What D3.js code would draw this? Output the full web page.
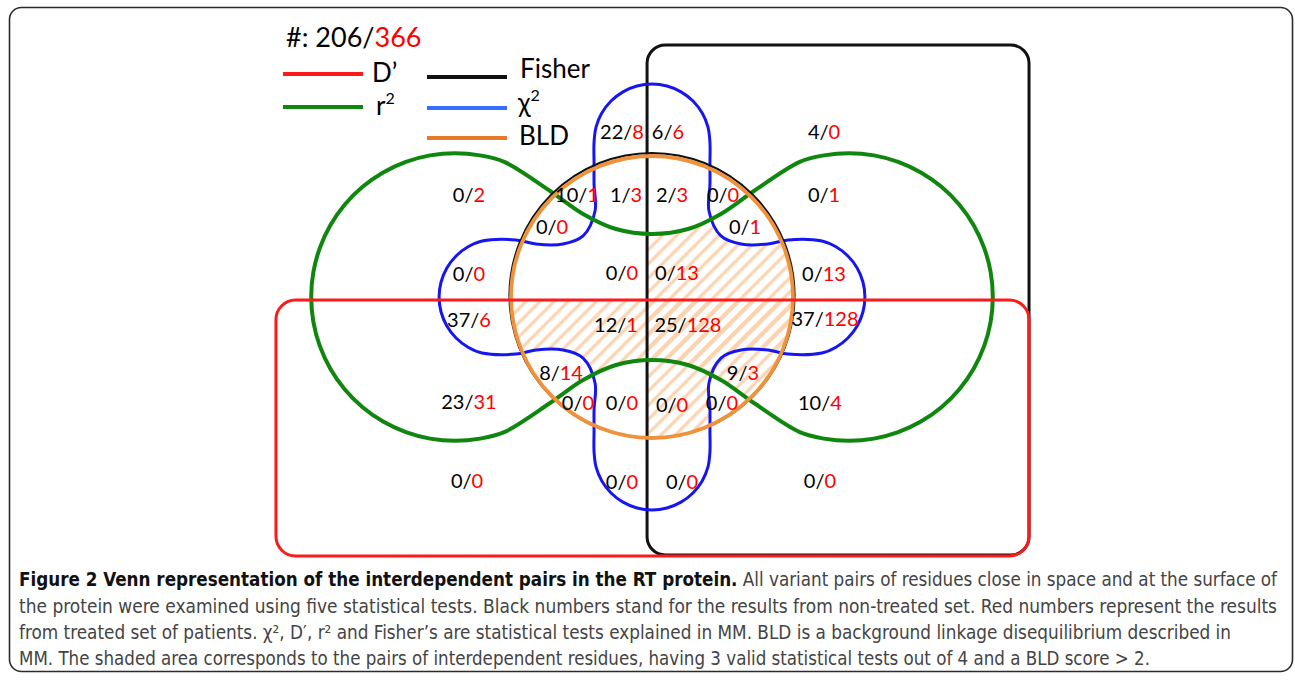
<!DOCTYPE html>
<html>
<head>
<meta charset="utf-8">
<script src="https://cdn.jsdelivr.net/npm/d3@7"></script>
<style>
  body { margin: 0; background: #fff; }
  svg text { font-family: Lato, "Open Sans", sans-serif; }
  .cap { font-family: "Liberation Sans Narrow", "DejaVu Sans Condensed", "Roboto", sans-serif; font-size: 19px; }
</style>
</head>
<body>
<svg id="chart" width="1295" height="680"></svg>
<script>
// one entry per Venn region, named by the tests it belongs to:
// B = BLD, C = chi2, D = D', F = Fisher, R = r2
var regions   = ["C", "CF", "F", "R", "B", "BC", "BCF", "BF", "FR", "BR", "BFR",
                 "CR", "BCR", "BCFR", "CFR", "CDR", "BCDR", "BCDFR", "CDFR",
                 "BDR", "BDFR", "DR", "BD", "BCD", "BCDF", "BDF", "DFR",
                 "D", "CD", "CDF", "DF"];
var untreated = [22, 6, 4, 0, 10, 1, 2, 0, 0, 0, 0,
                 0, 0, 0, 0, 37, 12, 25, 37,
                 8, 9, 23, 0, 0, 0, 0, 10,
                 0, 0, 0, 0];
var treated   = [8, 6, 0, 2, 1, 3, 3, 0, 1, 0, 1,
                 0, 0, 13, 13, 6, 1, 128, 128,
                 14, 3, 31, 0, 0, 0, 0, 4,
                 0, 0, 0, 0];

var legendNames = ["D’", "r", "Fisher", "χ", "BLD"];
var legendSup   = ["", "2", "", "2", ""];

var captionLines = [
  ["Figure 2 Venn representation of the interdependent pairs in the RT protein.", " All variant pairs of residues close in space and at the surface of"],
  ["", "the protein were examined using five statistical tests. Black numbers stand for the results from non-treated set. Red numbers represent the results"],
  ["", "from treated set of patients. χ², D′, r² and Fisher’s are statistical tests explained in MM. BLD is a background linkage disequilibrium described in"],
  ["", "MM. The shaded area corresponds to the pairs of interdependent residues, having 3 valid statistical tests out of 4 and a BLD score > 2."]
];

var col = { D: "#ff1a1a", R: "#0f870f", F: "#111", C: "#1616f0", B: "#f0913c" };
var legendCol = ["#ff1a1a", "#0f870f", "#111", "#3a6cff", "#e8792a"];

var svg = d3.select("#chart");

// diagram units: 1 = radius of the BLD circle
var R = 141, cx = 652, cy = 297;
var x = d3.scaleLinear().domain([-1, 1]).range([cx - R, cx + R]);
var y = d3.scaleLinear().domain([-1, 1]).range([cy - R, cy + R]);

var shapeLine = d3.line().x(function (d) { return x(d[0]); }).y(function (d) { return y(d[1]); })
  .curve(d3.curveCatmullRomClosed.alpha(0.5));

function roundRect(u0, v0, u1, v1, ru) {
  var p = d3.path(), a = x(u0), b = y(v0), c = x(u1), d = y(v1), r = ru * R;
  p.moveTo(a + r, b);
  p.arcTo(c, b, c, d, r);
  p.arcTo(c, d, a, d, r);
  p.arcTo(a, d, a, b, r);
  p.arcTo(a, b, c, b, r);
  p.closePath();
  return p.toString();
}
function arcPts(c, r, a0, a1, step) {
  var pts = [];
  for (var a = a0; a <= a1 + 1e-6; a += step) {
    var t = a * Math.PI / 180;
    pts.push([c[0] + r * Math.cos(t), c[1] + r * Math.sin(t)]);
  }
  return pts;
}

// Fisher and D' boxes
var fisherD = roundRect(-0.035, -1.787, 2.674, 1.83, 0.13);
var dprimeD = roundRect(-2.667, 0.021, 2.674, 1.837, 0.14);

// r2: two lobes joined by a waist
var gc = 1.397, gr = 1.02;
var waistTop = [[-0.723, -0.752], [-0.489, -0.589], [-0.255, -0.482], [0, -0.447],
                [0.255, -0.482], [0.489, -0.589], [0.723, -0.752]];
var greenPts = arcPts([-gc, 0], gr, 70, 290, 10)
  .concat(waistTop)
  .concat(arcPts([gc, 0], gr, 250, 470, 10))
  .concat(waistTop.map(function (d) { return [-d[0], -d[1]]; }));
var greenD = shapeLine(greenPts);

// chi2: four rounded arms with pinched corners
var w = 0.411, tc = 1.099;
var corner = [[0.404, -0.61], [0.489, -0.433], [0.631, -0.376], [0.823, -0.376], [0.965, -0.405]];
function cornerQ(sx, sy, rev) {
  var c = corner.map(function (d) { return [sx * d[0], sy * d[1]]; });
  return rev ? c.reverse() : c;
}
var bluePts = []
  .concat(arcPts([0, -tc], w, 180, 360, 15))
  .concat([[w, -0.95], [w, -0.8]])
  .concat(cornerQ(1, 1, false))
  .concat(arcPts([tc, 0], w, -90, 90, 15).slice(1, -1))
  .concat(cornerQ(1, -1, true))
  .concat([[w, 0.8], [w, 0.95]])
  .concat(arcPts([0, tc], w, 0, 180, 15))
  .concat([[-w, 0.95], [-w, 0.8]])
  .concat(cornerQ(-1, -1, false))
  .concat(arcPts([-tc, 0], w, 90, 270, 15).slice(1, -1))
  .concat(cornerQ(-1, 1, true))
  .concat([[-w, -0.8], [-w, -0.95]]);
var blueD = shapeLine(bluePts);

var circleD = (function () { var p = d3.path(); p.arc(x(0), y(0), R, 0, 2 * Math.PI); p.closePath(); return p.toString(); })();

// defs: hatch + clip paths
var defs = svg.append("defs");
defs.append("pattern").attr("id", "hatch").attr("patternUnits", "userSpaceOnUse")
  .attr("width", 10).attr("height", 10).attr("patternTransform", "rotate(45)")
  .append("line").attr("x1", 5).attr("x2", 5).attr("y1", 0).attr("y2", 10)
  .attr("stroke", "#fbd3b1").attr("stroke-width", 3.2);
var shapes = { B: circleD, C: blueD, D: dprimeD, F: fisherD, R: greenD };
Object.keys(shapes).forEach(function (k) {
  defs.append("clipPath").attr("id", "clip" + k).append("path").attr("d", shapes[k]);
});

// frame
svg.append("rect").attr("x", 9.5).attr("y", 7.5).attr("width", 1283).attr("height", 664)
  .attr("rx", 12).attr("fill", "none").attr("stroke", "#2b2b2b").attr("stroke-width", 1.6);

// shaded area: inside BLD and at least 3 of the 4 tests
[["F", "C", "R"], ["F", "C", "D"], ["F", "R", "D"], ["C", "R", "D"]].forEach(function (t) {
  var g = svg.append("g").attr("clip-path", "url(#clipB)");
  t.forEach(function (k) { g = g.append("g").attr("clip-path", "url(#clip" + k + ")"); });
  g.append("rect").attr("x", x(-1)).attr("y", y(-1)).attr("width", 2 * R).attr("height", 2 * R)
    .attr("fill", "url(#hatch)");
});

svg.append("path").attr("d", fisherD).attr("fill", "none").attr("stroke", col.F).attr("stroke-width", 3);
svg.append("path").attr("d", blueD).attr("fill", "none").attr("stroke", col.C).attr("stroke-width", 3);
svg.append("path").attr("d", greenD).attr("fill", "none").attr("stroke", col.R).attr("stroke-width", 4);
svg.append("circle").attr("cx", x(0)).attr("cy", y(-0.01)).attr("r", R + 1.5)
  .attr("fill", "none").attr("stroke", "#111").attr("stroke-width", 2.2);
svg.append("circle").attr("cx", x(0)).attr("cy", y(0)).attr("r", R)
  .attr("fill", "none").attr("stroke", col.B).attr("stroke-width", 3.8);
svg.append("path").attr("d", dprimeD).attr("fill", "none").attr("stroke", col.D).attr("stroke-width", 3);

// region labels (position in diagram units)
var labelPos = {
  C: [-0.213, -1.17], CF: [0.113, -1.17], F: [1.22, -1.17],
  R: [-1.298, -0.723], B: [-0.532, -0.723], BC: [-0.184, -0.723], BCF: [0.142, -0.723],
  BF: [0.504, -0.723], FR: [1.22, -0.723], BR: [-0.709, -0.496], BFR: [0.66, -0.496],
  CR: [-1.298, -0.163], BCR: [-0.213, -0.17], BCFR: [0.177, -0.17], CFR: [1.22, -0.163],
  CDR: [-1.298, 0.163], BCDR: [-0.255, 0.199], BCDFR: [0.255, 0.199], CDFR: [1.227, 0.156],
  BDR: [-0.645, 0.539], BDFR: [0.645, 0.539], DR: [-1.298, 0.745], BD: [-0.525, 0.752],
  BCD: [-0.213, 0.752], BCDF: [0.142, 0.766], BDF: [0.496, 0.752], DFR: [1.191, 0.752],
  D: [-1.312, 1.305], CD: [-0.213, 1.312], CDF: [0.213, 1.312], DF: [1.191, 1.305]
};
var lab = svg.append("g").selectAll("text").data(regions).join("text")
  .attr("x", function (d) { return x(labelPos[d][0]); })
  .attr("y", function (d) { return y(labelPos[d][1]); })
  .attr("dy", "0.35em").attr("text-anchor", "middle").attr("font-size", 20);
lab.append("tspan").attr("fill", "#000").text(function (d, i) { return untreated[i] + "/"; });
lab.append("tspan").attr("fill", "#ff0000").text(function (d, i) { return treated[i]; });

// header
var head = svg.append("text").attr("x", 286).attr("y", 47).attr("font-size", 27);
head.append("tspan").attr("fill", "#000").text("#: " + d3.sum(untreated) + "/");
head.append("tspan").attr("fill", "#ff0000").text(d3.sum(treated));

// legend
var legPos = [[283, 74, 372, 82], [283, 107, 376, 115], [427, 77, 520, 78], [427, 108, 518, 112], [427, 138, 519, 145]];
var leg = svg.append("g").selectAll("g").data(legendNames).join("g");
leg.append("line")
  .attr("x1", function (d, i) { return legPos[i][0]; })
  .attr("x2", function (d, i) { return legPos[i][0] + 80; })
  .attr("y1", function (d, i) { return legPos[i][1]; })
  .attr("y2", function (d, i) { return legPos[i][1]; })
  .attr("stroke", function (d, i) { return legendCol[i]; }).attr("stroke-width", 4);
var lt = leg.append("text")
  .attr("x", function (d, i) { return legPos[i][2]; })
  .attr("y", function (d, i) { return legPos[i][3]; })
  .attr("font-size", 26).attr("fill", "#000");
lt.append("tspan").text(function (d) { return d; });
lt.append("tspan").attr("font-size", 16).attr("dy", -11).text(function (d, i) { return legendSup[i]; });

// caption
var capEnds = [1277, 1277, 1231, 1150];
var capY = [586, 613, 639, 665];
captionLines.forEach(function (ln, i) {
  var t = svg.append("text").attr("class", "cap").attr("x", 19).attr("y", capY[i])
    .attr("textLength", capEnds[i] - 19).attr("lengthAdjust", "spacingAndGlyphs");
  if (ln[0]) t.append("tspan").attr("font-weight", "bold").attr("fill", "#111").text(ln[0]);
  t.append("tspan").attr("fill", "#444").text(ln[1]);
});
</script>
</body>
</html>
